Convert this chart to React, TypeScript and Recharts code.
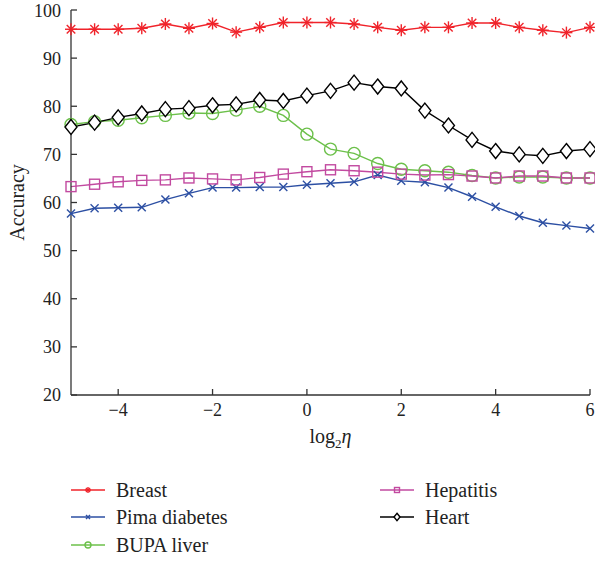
import React from "react";
import { LineChart, Line, XAxis, YAxis } from "recharts";

const etaValues = [-5, -4.5, -4, -3.5, -3, -2.5, -2, -1.5, -1, -0.5, 0, 0.5, 1, 1.5, 2, 2.5, 3, 3.5, 4, 4.5, 5, 5.5, 6];
const breast = [96.0, 96.0, 96.0, 96.2, 97.1, 96.2, 97.2, 95.4, 96.4, 97.4, 97.4, 97.4, 97.1, 96.4, 95.8, 96.4, 96.4, 97.3, 97.3, 96.4, 95.8, 95.3, 96.4];
const pima = [57.7, 58.8, 58.9, 59.0, 60.6, 61.9, 63.1, 63.1, 63.2, 63.2, 63.7, 64.0, 64.3, 65.7, 64.5, 64.2, 63.1, 61.2, 59.1, 57.2, 55.8, 55.2, 54.6];
const bupa = [76.2, 76.8, 77.1, 77.6, 78.1, 78.6, 78.5, 79.2, 80.0, 78.1, 74.2, 71.1, 70.2, 68.1, 66.9, 66.6, 66.3, 65.6, 65.1, 65.3, 65.3, 65.1, 65.1];
const hepatitis = [63.3, 63.8, 64.3, 64.6, 64.7, 65.1, 64.9, 64.7, 65.2, 65.9, 66.4, 66.8, 66.6, 66.3, 65.9, 65.7, 65.8, 65.5, 65.1, 65.5, 65.5, 65.1, 65.1];
const heart = [75.7, 76.6, 77.7, 78.5, 79.4, 79.6, 80.2, 80.4, 81.3, 81.1, 82.2, 83.2, 84.9, 84.1, 83.7, 79.1, 76.0, 73.0, 70.7, 70.0, 69.7, 70.7, 71.1];
const xTicks = [-4, -2, 0, 2, 4, 6];
const yTicks = [20, 30, 40, 50, 60, 70, 80, 90, 100];

const data = etaValues.map((eta, i) => ({
  eta,
  breast: breast[i],
  pima: pima[i],
  bupa: bupa[i],
  hepatitis: hepatitis[i],
  heart: heart[i],
}));

const FONT = "'Liberation Serif', 'DejaVu Serif', serif";
const RED = "#f0232a";
const BLUE = "#2c4fa3";
const GREEN = "#6cc04a";
const MAGENTA = "#c24aa0";
const BLACK = "#000000";

type Kind = "star" | "x" | "circle" | "square" | "diamond";

function Marker({ kind, cx, cy, color, s = 1 }: { kind: Kind; cx: number; cy: number; color: string; s?: number }) {
  const sw = 1.4;
  if (kind === "star") {
    const r = 6 * s;
    const d = r * 0.707;
    return (
      <g stroke={color} strokeWidth={sw}>
        <line x1={cx - r} y1={cy} x2={cx + r} y2={cy} />
        <line x1={cx} y1={cy - r} x2={cx} y2={cy + r} />
        <line x1={cx - d} y1={cy - d} x2={cx + d} y2={cy + d} />
        <line x1={cx - d} y1={cy + d} x2={cx + d} y2={cy - d} />
      </g>
    );
  }
  if (kind === "x") {
    const r = 4 * s;
    return (
      <g stroke={color} strokeWidth={sw}>
        <line x1={cx - r} y1={cy - r} x2={cx + r} y2={cy + r} />
        <line x1={cx - r} y1={cy + r} x2={cx + r} y2={cy - r} />
      </g>
    );
  }
  if (kind === "circle") {
    return <circle cx={cx} cy={cy} r={6 * s} fill="none" stroke={color} strokeWidth={sw} />;
  }
  if (kind === "square") {
    const h = 5 * s;
    return <rect x={cx - h} y={cy - h} width={2 * h} height={2 * h} fill="none" stroke={color} strokeWidth={sw} />;
  }
  const w = 6 * s;
  const h = 7.5 * s;
  return (
    <polygon
      points={`${cx},${cy - h} ${cx + w},${cy} ${cx},${cy + h} ${cx - w},${cy}`}
      fill="#fff"
      stroke={color}
      strokeWidth={sw}
    />
  );
}

const makeDot = (kind: Kind, color: string) => (props: any) => (
  <Marker key={`${kind}-${props.index}`} kind={kind} cx={props.cx} cy={props.cy} color={color} />
);

const series: { key: string; name: string; color: string; kind: Kind }[] = [
  { key: "breast", name: "Breast", color: RED, kind: "star" },
  { key: "pima", name: "Pima diabetes", color: BLUE, kind: "x" },
  { key: "bupa", name: "BUPA liver", color: GREEN, kind: "circle" },
  { key: "hepatitis", name: "Hepatitis", color: MAGENTA, kind: "square" },
  { key: "heart", name: "Heart", color: BLACK, kind: "diamond" },
];

const legendPos = [
  { left: 71, top: 490 },
  { left: 71, top: 517 },
  { left: 71, top: 545 },
  { left: 380, top: 490 },
  { left: 380, top: 517 },
];

const fmt = (v: number) => String(v).replace("-", "\u2212");

const tickStyle = { fontSize: 18, fill: "#222", fontFamily: FONT };

export default function App() {
  return (
    <div style={{ position: "absolute", left: 0, top: 0, width: 595, height: 563, background: "#fff" }}>
      <LineChart
        width={595}
        height={563}
        data={data}
        margin={{ top: 10, right: 5, bottom: 138, left: 11 }}
      >
        <XAxis
          xAxisId="b"
          dataKey="eta"
          type="number"
          domain={[-5, 6]}
          ticks={xTicks}
          tickFormatter={fmt}
          height={30}
          tickSize={-6}
          tickMargin={14}
          tick={tickStyle}
          stroke="#333"
          strokeWidth={1.3}
          label={(p: any) => {
            const vb = p.viewBox;
            return (
              <text x={vb.x + vb.width / 2} y={443} textAnchor="middle" fontFamily={FONT} fontSize={20} fill="#222">
                log<tspan fontSize={13} dy={5}>2</tspan>
                <tspan dy={-5} fontStyle="italic">η</tspan>
              </text>
            );
          }}
        />
        <XAxis
          xAxisId="t"
          dataKey="eta"
          type="number"
          orientation="top"
          domain={[-5, 6]}
          ticks={xTicks}
          height={0}
          tickSize={-6}
          tick={false}
          stroke="#333"
          strokeWidth={1.3}
        />
        <YAxis
          yAxisId="l"
          type="number"
          domain={[20, 100]}
          ticks={yTicks}
          width={60}
          tickSize={-6}
          tickMargin={16}
          tick={tickStyle}
          stroke="#333"
          strokeWidth={1.3}
          label={(p: any) => {
            const vb = p.viewBox;
            const cy = vb.y + vb.height / 2;
            return (
              <text x={24} y={cy} textAnchor="middle" fontFamily={FONT} fontSize={20} fill="#222" transform={`rotate(-90 24 ${cy})`}>
                Accuracy
              </text>
            );
          }}
        />
        <YAxis
          yAxisId="r"
          type="number"
          orientation="right"
          domain={[20, 100]}
          ticks={yTicks}
          width={0}
          tickSize={-6}
          tick={false}
          stroke="#333"
          strokeWidth={1.3}
        />
        {series.map((s) => (
          <Line
            key={s.key}
            xAxisId="b"
            yAxisId="l"
            dataKey={s.key}
            name={s.name}
            type="linear"
            stroke={s.color}
            strokeWidth={1.4}
            dot={makeDot(s.kind, s.color)}
            activeDot={false}
            isAnimationActive={false}
          />
        ))}
      </LineChart>
      {series.map((s, i) => (
        <div
          key={s.key}
          style={{
            position: "absolute",
            left: legendPos[i].left,
            top: legendPos[i].top - 12,
            height: 24,
            display: "flex",
            alignItems: "center",
            fontFamily: FONT,
            fontSize: 20,
            color: "#222",
            whiteSpace: "nowrap",
          }}
        >
          <svg width={34} height={14} style={{ marginRight: 11 }}>
            <line x1={0} y1={7} x2={34} y2={7} stroke={s.color} strokeWidth={1.4} />
            <Marker kind={s.kind} cx={17} cy={7} color={s.color} s={0.5} />
          </svg>
          {s.name}
        </div>
      ))}
    </div>
  );
}
